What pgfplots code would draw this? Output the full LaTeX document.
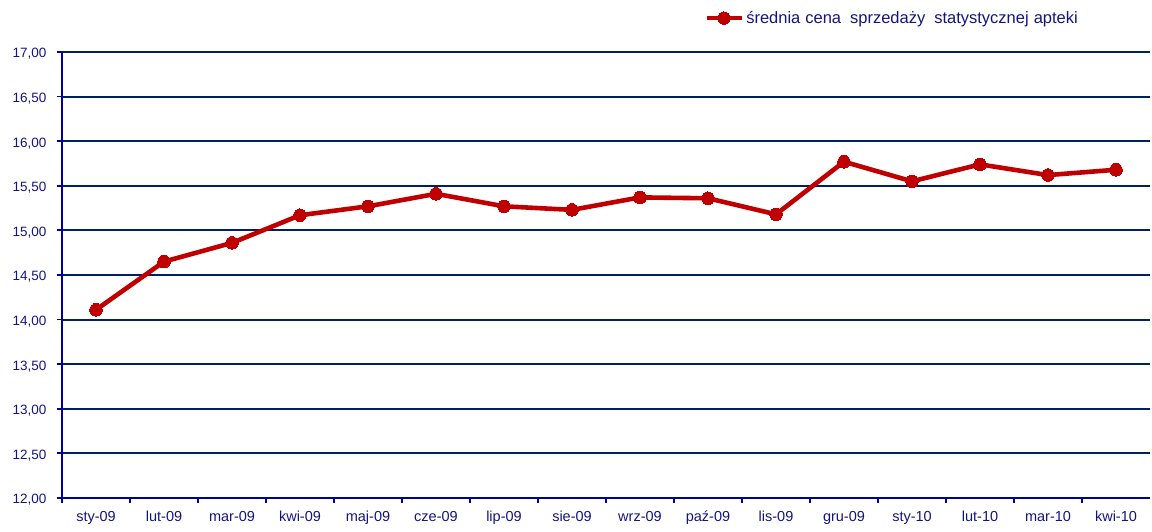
\documentclass[border=0pt]{standalone}
\usepackage{fontspec}
\setmainfont{Liberation Sans}
\usepackage{pgfplots}
\pgfplotsset{compat=1.18}
\definecolor{txtblue}{RGB}{20,20,128}
\definecolor{axblue}{RGB}{0,0,160}
\definecolor{gridnavy}{RGB}{0,32,96}
\definecolor{linered}{RGB}{192,0,0}
\begin{document}
\begin{tikzpicture}
\useasboundingbox (-62pt,-34pt) rectangle (1090pt,498pt);
\begin{axis}[
  at={(0,0)}, anchor=south west,
  scale only axis, width=1088pt, height=446pt,
  xmin=-0.5, xmax=15.5, ymin=12, ymax=17,
  axis x line*=bottom, axis y line*=left,
  axis line style={axblue, line width=2.4pt, -},
  xtick={0,...,15},
  xticklabels={sty-09,lut-09,mar-09,kwi-09,maj-09,cze-09,lip-09,sie-09,wrz-09,paź-09,lis-09,gru-09,sty-10,lut-10,mar-10,kwi-10},
  minor xtick={-0.5,0.5,...,14.5},
  major x tick style={draw=none},
  minor x tick style={axblue, line width=1.8pt},
  minor tick length=5pt,
  ytick={12,12.5,...,17},
  ytick style={axblue, line width=1.8pt},
  major tick length=5pt,
  tick align=outside,
  ymajorgrids,
  major grid style={gridnavy, line width=2pt},
  xticklabel style={font=\fontsize{14.5}{16}\selectfont, text=txtblue, anchor=base, yshift=-19pt},
  yticklabel style={font=\fontsize{13.5}{15}\selectfont, text=txtblue, xshift=-7pt, yshift=-2pt},
  /pgf/number format/.cd, fixed, fixed zerofill, precision=2, use comma, assume math mode=true,
  /pgfplots/.cd,
  legend style={draw=none, fill=none, at={(0.5905,1.076)}, anchor=west, inner sep=0pt,
    font=\fontsize{16.5}{18}\selectfont, text=txtblue},
  legend image code/.code={\draw[mark repeat=2, mark phase=2, #1] plot coordinates {(0pt,0pt) (17pt,0pt) (35pt,0pt)};},
  clip=false,
]
\addplot[linered, line width=4.6pt, mark=*, mark size=6.3pt, mark options={fill=linered, draw=linered, line width=0pt}]
  coordinates {
  (0,14.11) (1,14.65) (2,14.86) (3,15.17) (4,15.27) (5,15.41) (6,15.27) (7,15.23)
  (8,15.37) (9,15.36) (10,15.18) (11,15.77) (12,15.55) (13,15.74) (14,15.62) (15,15.68)
  };
\addlegendentry{średnia\hspace{5pt}cena\hspace{9pt}sprzedaży\hspace{9pt}statystycznej\hspace{5pt}apteki}
\end{axis}
\end{tikzpicture}
\end{document}
